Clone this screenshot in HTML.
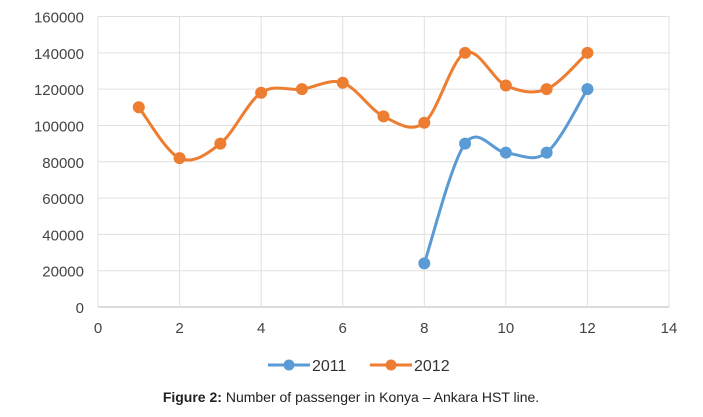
<!DOCTYPE html>
<html><head><meta charset="utf-8"><style>
body{margin:0;background:#fff;width:703px;height:412px;overflow:hidden;font-family:"Liberation Sans",Arial,sans-serif}
svg text{font-family:"Liberation Sans",Arial,sans-serif}
</style></head><body>
<svg id="chart" width="703" height="412"></svg>
<script>
const xTicks=[0,2,4,6,8,10,12,14];
const yTicks=[0,20000,40000,60000,80000,100000,120000,140000,160000];
const months2012=[1,2,3,4,5,6,7,8,9,10,11,12];
const values2012=[110000,82000,90000,118000,120000,123500,105000,101500,140000,122000,120000,140000];
const months2011=[8,9,10,11,12];
const values2011=[24000,90000,85000,85000,120000];
const L=98,R=669,T=16.5,B=307;
const sx=v=>L+(v-0)/14*(R-L);
const sy=v=>B-v/160000*(B-T);
const svg=document.getElementById('chart');
const NS='http://www.w3.org/2000/svg';
function mk(tag,attrs,parent){const e=document.createElementNS(NS,tag);for(const k in attrs)e.setAttribute(k,attrs[k]);(parent||svg).appendChild(e);return e;}
yTicks.forEach(v=>{
 const l=mk('line',{x1:L,x2:R,y1:sy(v),y2:sy(v),stroke:v===0?'#cfcfcf':'#e0e0e0','stroke-width':v===0?1.5:1});
 
 
 const t=mk('text',{x:L-14,y:sy(v)+6,'text-anchor':'end','font-size':15,fill:'#444'});
 t.textContent=v;
 
 
});
xTicks.forEach(v=>{
 const l=mk('line',{x1:sx(v),x2:sx(v),y1:T,y2:B,stroke:'#e0e0e0','stroke-width':1});
 
 
 const t=mk('text',{x:sx(v),y:333,'text-anchor':'middle','font-size':15,fill:'#444'});
 t.textContent=v;
 
 
});
function smooth(pts){
 let d='M'+pts[0][0]+','+pts[0][1];
 const k=1/6;
 for(let i=0;i<pts.length-1;i++){
  const p0=pts[i-1]||pts[i],p1=pts[i],p2=pts[i+1],p3=pts[i+2]||p2;
  const c1=[p1[0]+(p2[0]-p0[0])*k,p1[1]+(p2[1]-p0[1])*k];
  const c2=[p2[0]-(p3[0]-p1[0])*k,p2[1]-(p3[1]-p1[1])*k];
  d+=' C'+c1+' '+c2+' '+p2;
 }
 return d;
}
function series(xs,ys,color,name){
 const pts=xs.map((x,i)=>[sx(x),sy(ys[i])]);
 const p=mk('path',{d:smooth(pts),fill:'none',stroke:color,'stroke-width':3});
 
 
 pts.forEach(q=>{const c=mk('circle',{cx:q[0],cy:q[1],r:6,fill:color});
  
  });
}
series(months2012,values2012,'#ed7d31','series-2012');
series(months2011,values2011,'#5b9bd5','series-2011');
// legend
[[268,'#5b9bd5','2011'],[370,'#ed7d31','2012']].forEach(([x,c,lab])=>{
 const g=mk('g',{});
 
 
 mk('line',{x1:x,x2:x+42,y1:365,y2:365,stroke:c,'stroke-width':3},g);
 mk('circle',{cx:x+21,cy:365,r:5.5,fill:c},g);
 const t=mk('text',{x:x+44,y:371,'font-size':16,fill:'#333'},g);t.textContent=lab;
});
const cap=mk('text',{x:351,y:402,'text-anchor':'middle','font-size':14,fill:'#222'});


cap.innerHTML='<tspan font-weight="bold">Figure 2:</tspan> Number of passenger in Konya – Ankara HST line.';
</script>
</body></html>
